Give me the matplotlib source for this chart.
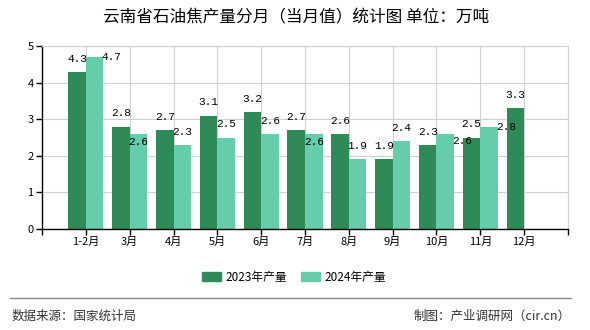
import numpy as np
import matplotlib.pyplot as plt
from matplotlib.patches import Patch
from matplotlib.lines import Line2D

plt.rcParams['font.family'] = ['Noto Sans CJK SC', 'DejaVu Sans']

#monthly values, 10k tons
months = ['1-2月', '3月', '4月', '5月', '6月', '7月', '8月', '9月', '10月', '11月', '12月']
prod_2023 = [4.3, 2.8, 2.7, 3.1, 3.2, 2.7, 2.6, 1.9, 2.3, 2.5, 3.3]
prod_2024 = [4.7, 2.6, 2.3, 2.5, 2.6, 2.6, 1.9, 2.4, 2.6, 2.8, None]
legend_names = ['2023年产量', '2024年产量']

dark = '#2e8b57'
light = '#66cdaa'

fig = plt.figure(figsize=(5.9, 3.3), dpi=100)
ax = fig.add_axes([42/590, 1 - 229/330, 526/590, 183/330])

x = np.arange(1, len(months) + 1)
w = 0.4

ax.bar(x - w/2, prod_2023, w, color=dark, zorder=2)
x24 = [xi for xi, v in zip(x, prod_2024) if v is not None]
v24 = [v for v in prod_2024 if v is not None]
ax.bar(np.array(x24) + w/2, v24, w, color=light, zorder=2)

#value labels (offsets in points, some labels get nudged aside)
for xi, v in zip(x, prod_2023):
    ax.annotate(f'{v}', (xi - w/2, v), xytext=(0, 9.4), textcoords='offset points',
                ha='center', va='center', fontsize=8, family='Liberation Mono')
nudge = {0: (12.2, 0), 1: (0, -5.8), 5: (0, -5.8), 8: (12.2, -5.2), 9: (12.2, 0)}
for i, (xi, v) in enumerate(zip(x24, v24)):
    off = nudge.get(i, (0, 9.4))
    ax.annotate(f'{v}', (xi + w/2, v), xytext=off, textcoords='offset points',
                ha='center', va='center', fontsize=8, family='Liberation Mono')

ax.set_xlim(0, len(months) + 1)
ax.set_ylim(0, 5)
ax.set_xticks(np.arange(0, len(months) + 2))
ax.set_xticklabels([''] + months + [''], fontsize=8)
ax.set_yticks(np.arange(0, 6))
ax.tick_params(axis='both', length=4, width=1, color='black', labelsize=8, pad=2)

ax.grid(True, color='#d0d0d0', lw=0.8, zorder=0)
for s in ['top', 'right']:
    ax.spines[s].set_color('#d0d0d0')
    ax.spines[s].set_linewidth(0.8)
for s in ['left', 'bottom']:
    ax.spines[s].set_color('black')
    ax.spines[s].set_linewidth(1)

fig.text(296/590, 1 - 18/330, '云南省石油焦产量分月（当月值）统计图 单位：万吨',
         ha='center', va='center', fontsize=12)

handles = [Patch(color=dark), Patch(color=light)]
fig.legend(handles, legend_names, loc='center', bbox_to_anchor=(294/590, 1 - 277/330),
           ncol=2, frameon=False, fontsize=8.5, handlelength=1.6, handleheight=0.8,
           columnspacing=1.2, handletextpad=0.4)

fig.add_artist(Line2D([10/590, 571/590], [1 - 298/330] * 2, color='#888888', lw=1))
fig.text(12/590, 1 - 316/330, '数据来源：国家统计局', ha='left', va='center',
         fontsize=9, color='#333333')
fig.text(571/590, 1 - 316/330, '制图：产业调研网（cir.cn）', ha='right', va='center',
         fontsize=9, color='#333333')

fig.savefig('out.png', dpi=100)
